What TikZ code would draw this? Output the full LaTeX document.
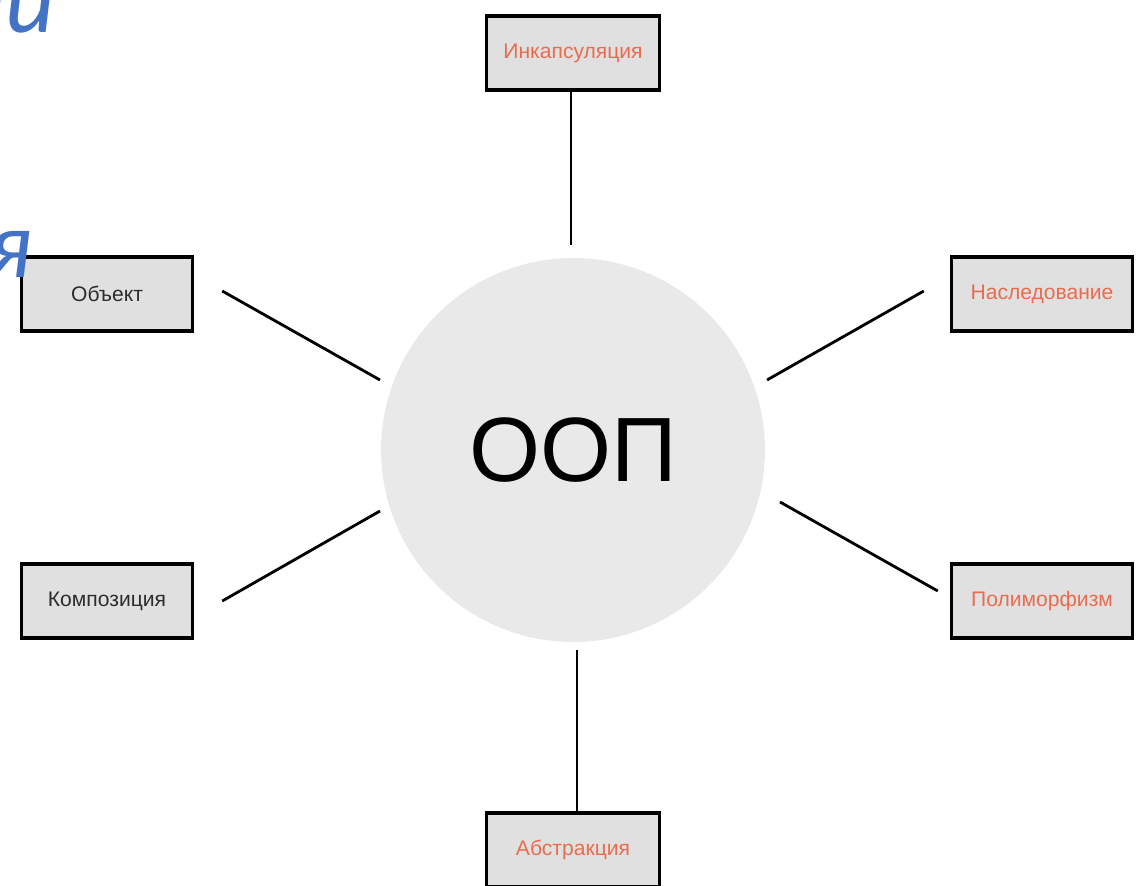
\documentclass[tikz,border=0pt]{standalone}
\usepackage{fontspec}
\setmainfont{Liberation Sans}
\newfontfamily\slidefont{Carlito}
\usetikzlibrary{calc}
\definecolor{boxgray}{RGB}{224,224,224}
\definecolor{ballgray}{RGB}{233,233,233}
\definecolor{coral}{RGB}{234,108,80}
\definecolor{textgray}{RGB}{45,45,45}
\definecolor{slideblue}{RGB}{68,114,196}

\begin{document}
\begin{tikzpicture}[x=0.02cm, y=-0.02cm,
        concept/.style={draw, line width=2pt, fill=boxgray, minimum width=3.46cm, minimum height=1.48cm, inner sep=0pt, font=\fontsize{12}{14}\selectfont},
        link/.style={line width=1.6pt}]
    \useasboundingbox (0,0) rectangle (1145,885);
    \clip (0,0) rectangle (1145,885);

    % center
    \node[circle, fill=ballgray, minimum size=7.68cm, font=\fontsize{52}{58}\selectfont] (oop) at (573,450) {ООП};

    % the six boxes
    \node[concept, text=coral] (enc) at (573,53) {Инкапсуляция};
    \node[concept, text=textgray, minimum width=3.42cm] (obj) at (107,294) {Объект};
    \node[concept, text=coral, minimum width=3.62cm] (inh) at (1042,294) {Наследование};
    \node[concept, text=textgray, minimum width=3.42cm] (comp) at (107,601) {Композиция};
    \node[concept, text=coral, minimum width=3.62cm] (poly) at (1042,601) {Полиморфизм};
    \node[concept, text=coral] (abs) at (573,850) {Абстракция};

    % line ends next to the circle
    \coordinate (c-enc) at (571,245);
    \coordinate (c-obj) at (380,380);
    \coordinate (c-inh) at (767,380);
    \coordinate (c-comp) at (380,511);
    \coordinate (c-poly) at (780,502);
    \coordinate (c-abs) at (577,650);

    \draw[link] ($(enc.south)+(-2,0)$) -- (c-enc);
    \draw[link] ($(obj.east)+(28,-3)$) -- (c-obj);
    \draw[link] ($(inh.west)+(-26,-3)$) -- (c-inh);
    \draw[link] ($(comp.east)+(28,0)$) -- (c-comp);
    \draw[link] ($(poly.west)+(-12,-10)$) -- (c-poly);
    \draw[link] ($(abs.north)+(4,0)$) -- (c-abs);

    % cut-off words of the slide behind
    \node[anchor=base east, inner sep=0pt, text=slideblue, font=\fontsize{55}{60}\slidefont\itshape] (w1) at (56,33) {ии};
    \node[anchor=base east, inner sep=0pt, text=slideblue, font=\fontsize{55}{60}\slidefont\itshape] (w2) at (33,277) {я};
\end{tikzpicture}
\end{document}
